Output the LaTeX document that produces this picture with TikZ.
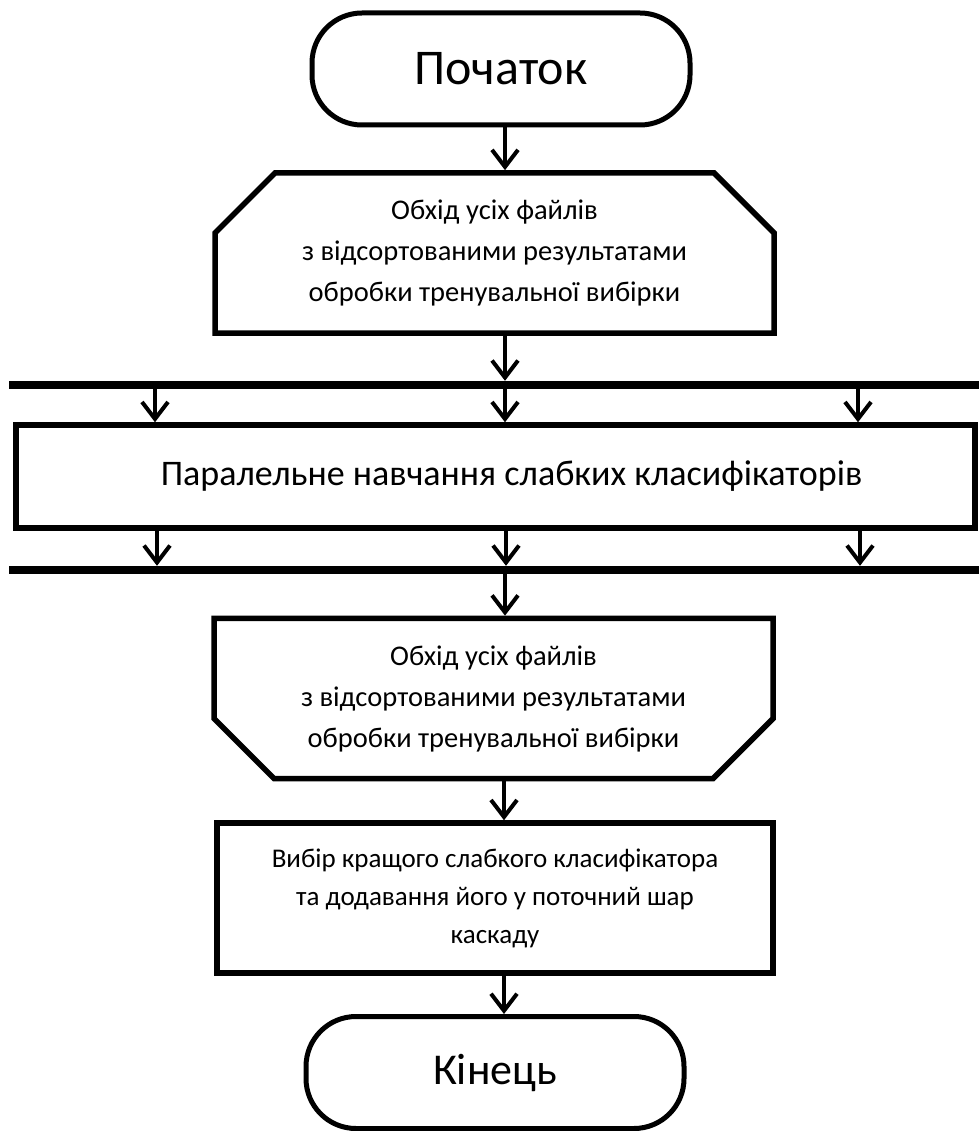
\documentclass[tikz,border=0pt]{standalone}
\usepackage{fontspec}
\setmainfont{Carlito}
\usetikzlibrary{arrows.meta,shapes.misc}
\begin{document}
\begin{tikzpicture}[x=1pt,y=-1pt,
  term/.style={draw, line width=5pt, rectangle, rounded corners=50pt, minimum width=378pt, minimum height=112pt, inner sep=0pt, font=\fontsize{50}{60}\selectfont},
  loopbox/.style={draw, line width=5.5pt, chamfered rectangle, chamfered rectangle xsep=33pt, chamfered rectangle ysep=27pt, minimum width=559pt, minimum height=160pt, inner sep=0pt, align=center, font=\fontsize{28.5}{41}\selectfont},
  procbox/.style={draw, line width=5.5pt, rectangle, minimum width=556pt, minimum height=150pt, inner sep=0pt, align=center, font=\fontsize{27}{38}\selectfont},
  parbox/.style={draw, line width=5.5pt, rectangle, minimum width=959pt, minimum height=103pt, inner sep=0pt, font=\fontsize{36}{40}\selectfont},
  bar/.style={fill=black, inner sep=0pt, minimum width=970pt, minimum height=8pt},
  arr/.style={line width=4pt, -{Straight Barb[length=17pt,width=26pt]}}
]
\useasboundingbox (0,0) rectangle (979,1131);

\node[term] (start) at (501,69) {Початок};
\node[loopbox, chamfered rectangle corners={north west,north east}] (lb1) at (494.5,253) {Обхід усіх файлів\\з відсортованими результатами\\обробки тренувальної вибірки};
\node[bar] (bar1) at (494,385) {};
\node[parbox] (par) at (495.5,476.5) {\hspace*{32pt}\raisebox{6pt}{Паралельне навчання слабких класифікаторів}};
\node[bar] (bar2) at (494,570) {};
\node[loopbox, chamfered rectangle corners={south west,south east}] (lb2) at (493.5,698.5) {Обхід усіх файлів\\з відсортованими результатами\\обробки тренувальної вибірки};
\node[procbox] (sel) at (495,898) {Вибір кращого слабкого класифікатора\\та додавання його у поточний шар\\каскаду};
\node[term] (end) at (495,1072.5) {\fontsize{44}{50}\selectfont Кінець};

\draw[arr] (505,0 |- start.south) -- (505,0 |- lb1.north);
\draw[arr] (505,0 |- lb1.south) -- (505,0 |- bar1.north);
\draw[arr] (155,0 |- bar1.south) -- (155,0 |- par.north);
\draw[arr] (505,0 |- bar1.south) -- (505,0 |- par.north);
\draw[arr] (858,0 |- bar1.south) -- (858,0 |- par.north);
\draw[arr] (157,0 |- par.south) -- (157,0 |- bar2.north);
\draw[arr] (506,0 |- par.south) -- (506,0 |- bar2.north);
\draw[arr] (860,0 |- par.south) -- (860,0 |- bar2.north);
\draw[arr] (505,0 |- bar2.south) -- (505,0 |- lb2.north);
\draw[arr] (504,0 |- lb2.south) -- (504,0 |- sel.north);
\draw[arr] (504,0 |- sel.south) -- (504,0 |- end.north);
\end{tikzpicture}
\end{document}
